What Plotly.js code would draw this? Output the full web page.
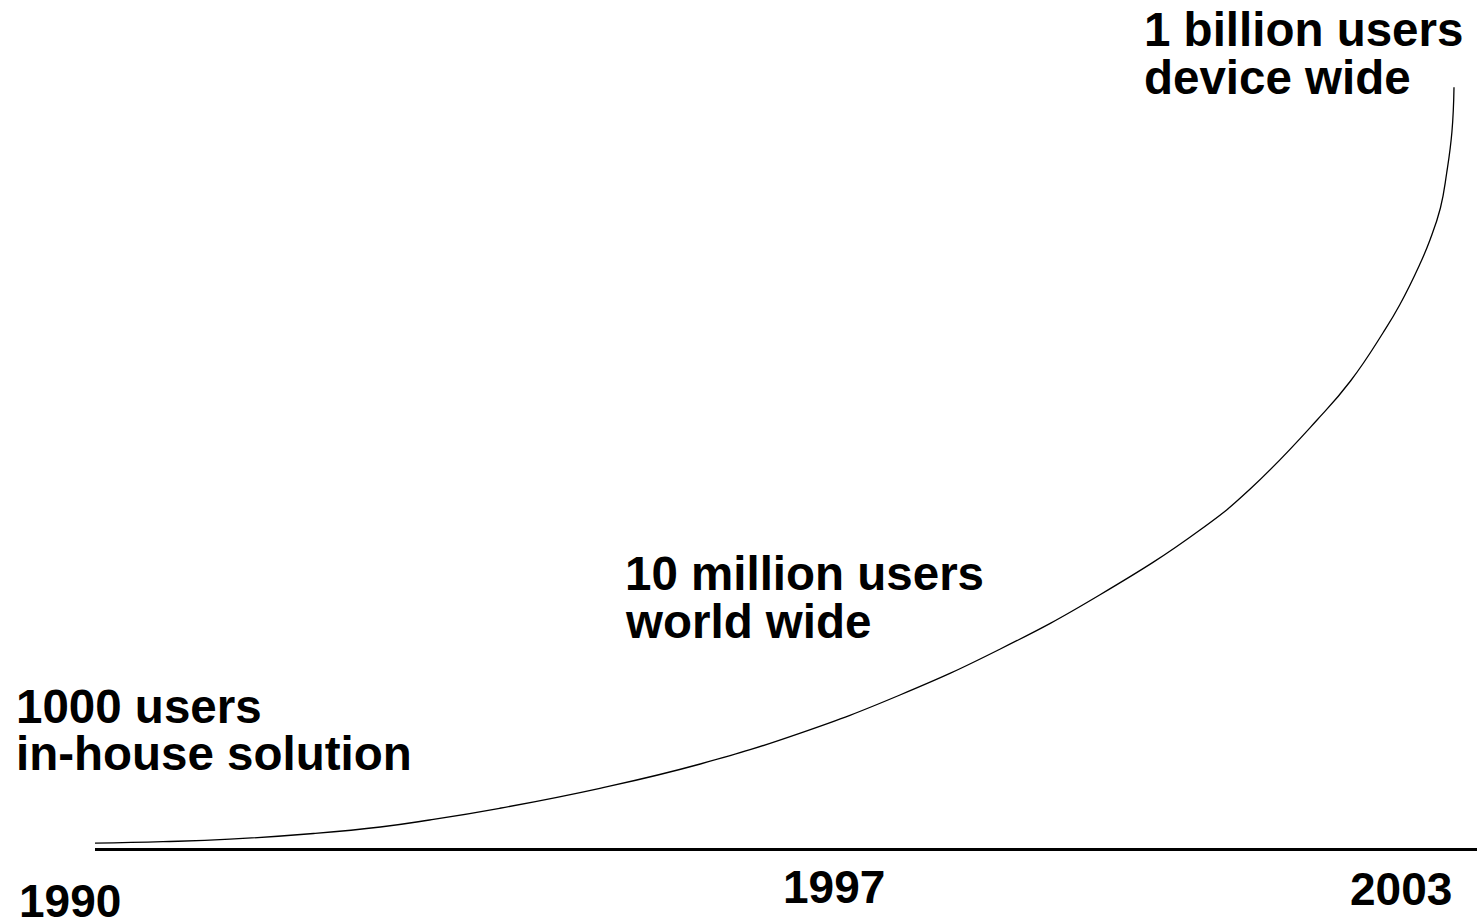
<!DOCTYPE html>
<html>
<head>
<meta charset="utf-8">
<script src="https://cdn.plot.ly/plotly-3.0.1.min.js"></script>
<style>
  html, body { margin: 0; padding: 0; background: #ffffff; }
  #chart { width: 1477px; height: 923px; }
</style>
</head>
<body>
<div id="chart"></div>
<script>
// Growth curve: year vs. relative height above baseline
const curveYears = [1990.00, 1990.65, 1991.29, 1992.09, 1992.73, 1993.20, 1993.87, 1994.83,
  1995.79, 1996.74, 1997.70, 1998.66, 1999.61, 2000.57, 2001.05, 2001.69, 2002.01,
  2002.32, 2002.48, 2002.67, 2002.77, 2002.87, 2002.93, 2002.98, 2003.00];
const curveHeights = [4.8, 6.3, 8.8, 14.5, 21, 28, 39.7, 59.7,
  84, 114.7, 153, 199, 253, 318, 359, 428, 467,
  515, 543, 583, 608, 640, 675, 716, 760.7];

// Milestone labels (two lines each)
const milestoneLine1 = ["1000 users", "10 million users", "1 billion users"];
const milestoneLine2 = ["in-house solution", "world wide", "device wide"];
// Year labels under the baseline
const yearLabels = ["1990", "1997", "2003"];

// ---- layout geometry (pixels) ----
const W = 1477, H = 923;
const M = {l: 95, r: 0, t: 0, b: 75};
const plotW = W - M.l - M.r, plotH = H - M.t - M.b;
const px = x => (x - M.l) / plotW;
const py = y => (H - M.b - y) / plotH;

const FONT = "Liberation Sans, Arial, Helvetica, sans-serif";
const LABEL_SIZE = 47.5;
const YEAR_SIZE = 46;

// label placement (left edge x, vertical centre y), pixels
const msPos = [
  {x: 16, y1: 706, y2: 753.5},
  {x: 625, y1: 573.5, y2: 621.5},
  {x: 1144, y1: 29, y2: 77}
];
const yearPos = [
  {x: 19, y: 901},
  {x: 783, y: 886.5},
  {x: 1350, y: 889}
];

const annotations = [];
function addLabel(t, x, y, size) {
  annotations.push({text: "<b>" + t + "</b>", xref: "paper", yref: "paper",
    x: px(x), y: py(y), xanchor: "left", yanchor: "middle",
    showarrow: false, borderpad: 0, borderwidth: 0,
    font: {family: FONT, size: size, color: "#000000"}});
}
milestoneLine1.forEach((t, i) => {
  addLabel(t, msPos[i].x, msPos[i].y1, LABEL_SIZE);
  addLabel(milestoneLine2[i], msPos[i].x, msPos[i].y2, LABEL_SIZE);
});
yearLabels.forEach((t, i) => addLabel(t, yearPos[i].x, yearPos[i].y, YEAR_SIZE));

const pxPerYear = (1454 - 95) / 13;
const xMin = 1990, xMax = 1990 + plotW / pxPerYear;

const data = [{
  type: "scatter", mode: "lines",
  x: curveYears, y: curveHeights,
  line: {color: "#000000", width: 1.3, shape: "spline", smoothing: 1.3},
  cliponaxis: false, hoverinfo: "skip", showlegend: false
}];

const layout = {
  width: W, height: H,
  margin: M,
  paper_bgcolor: "#ffffff", plot_bgcolor: "#ffffff",
  showlegend: false,
  xaxis: {range: [xMin, xMax], showgrid: false, zeroline: false,
    showline: true, linecolor: "#000000", linewidth: 2.5,
    showticklabels: false, ticks: "", fixedrange: true},
  yaxis: {range: [0, plotH], showgrid: false, zeroline: false,
    showline: false, showticklabels: false, ticks: "", fixedrange: true},
  annotations: annotations
};

Plotly.newPlot("chart", data, layout, {displayModeBar: false, staticPlot: true});
</script>
</body>
</html>
